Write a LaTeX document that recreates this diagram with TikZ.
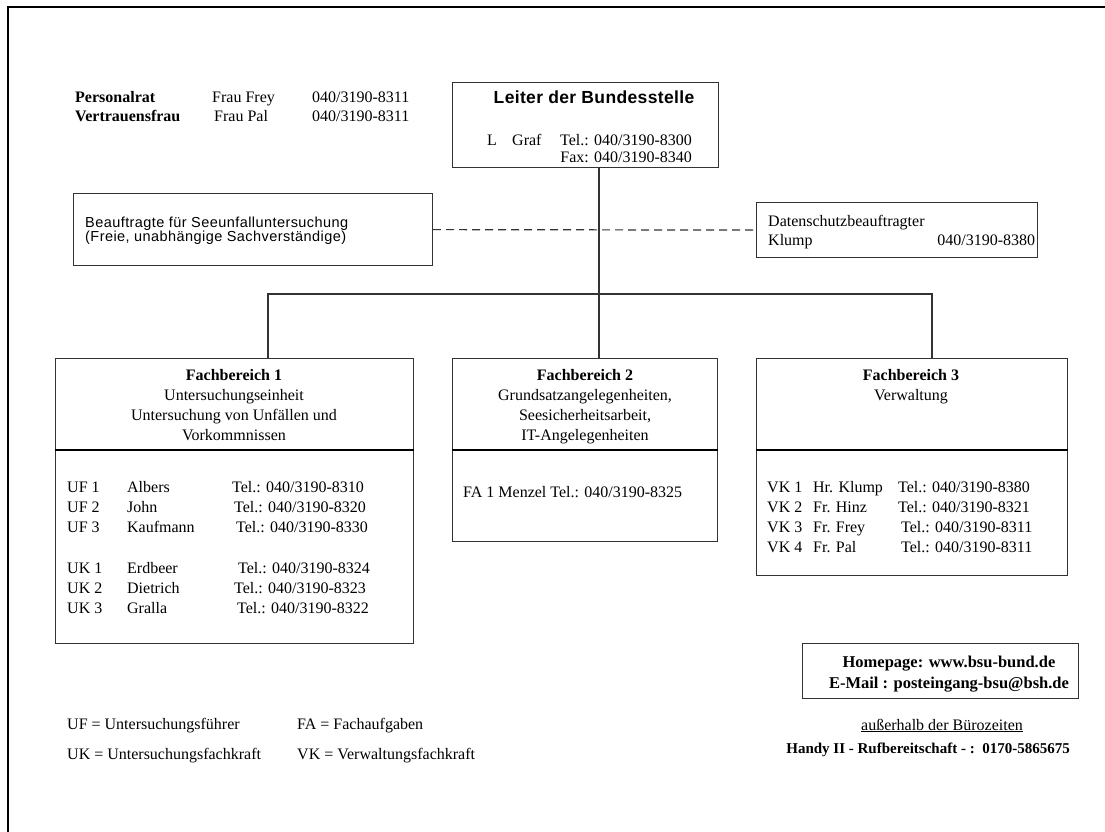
\documentclass[tikz,border=0pt]{standalone}
\usepackage{fontspec}
\setmainfont{Liberation Serif}
\setsansfont{Liberation Sans}
\newfontfamily\boxsans[LetterSpace=3]{Liberation Sans}
\newfontfamily\titlesans[LetterSpace=2]{Liberation Sans}
\usepackage{tikz}
\usetikzlibrary{positioning,calc}
\setlength{\tabcolsep}{0pt}
\tikzset{
  orgbox/.style={rectangle,draw=black!80,line width=1.2pt,inner sep=0pt,anchor=north west},
  txt/.style={inner sep=0pt,font=\fontsize{16}{20}\selectfont},
  toptxt/.style={inner sep=0pt,font=\fontsize{16}{17}\selectfont},
  sanstitle/.style={inner sep=0pt,font=\titlesans\bfseries\fontsize{17.5}{18}\selectfont},
  sanstxt/.style={inner sep=0pt,font=\boxsans\fontsize{14.5}{14}\selectfont},
  divider/.style={draw=black,line width=2pt},
  link/.style={draw=black!80,line width=1.2pt},
  frame/.style={draw=black,line width=1.5pt}
}
\begin{document}
\begin{tikzpicture}[x=1pt,y=-1pt]
  \useasboundingbox (0,0) rectangle (1105,832);
  \draw[frame] (8,832) -- (8,7) -- (1105,7);

  % Personalvertretung
  \node[toptxt,anchor=base west] (personal) at (75,103) {\begin{tabular}[t]{@{}p{137pt}p{100pt}l@{}}
    \textbf{Personalrat} & Frau Frey & 040/3190-8311\\[2pt]
    \textbf{Vertrauensfrau} & \hspace{2pt}Frau Pal & 040/3190-8311
  \end{tabular}};

  % Leitung
  \node[orgbox,minimum width=266pt,minimum height=85pt] (leiter) at (452,82) {};
  \node[sanstitle,anchor=base] (leitertitle) at (594,104) {Leiter der Bundesstelle};
  \node[toptxt,anchor=base west] (leiterinfo) at (487,146) {\begin{tabular}[t]{@{}p{25pt}p{48pt}r@{}}
    L & Graf & Tel.: 040/3190-8300\\
      &      & Fax: 040/3190-8340
  \end{tabular}};

  % Stabsstellen
  \node[orgbox,minimum width=359pt,minimum height=72pt] (beauf) at (73,193) {};
  \node[sanstxt,anchor=base west] (beauftxt) at (85,227) {\begin{tabular}[t]{@{}l@{}}
    Beauftragte für Seeunfalluntersuchung\\
    (Freie, unabhängige Sachverständige)
  \end{tabular}};
  \node[orgbox,minimum width=281pt,minimum height=55pt] (daten) at (756,202) {};
  \node[toptxt,anchor=base west] (datentxt) at (768,226) {\begin{tabular*}{267pt}[t]{@{}l@{\extracolsep{\fill}}r@{}}
    Datenschutzbeauftragter & \\[2pt]
    Klump & 040/3190-8380
  \end{tabular*}};

  % Fachbereiche
  \node[orgbox,minimum width=358pt,minimum height=285pt] (fb1) at (55,358) {};
  \node[orgbox,minimum width=265pt,minimum height=183pt] (fb2) at (452,358) {};
  \node[orgbox,minimum width=311pt,minimum height=217pt] (fb3) at (756,358) {};
  \foreach \fb in {fb1,fb2,fb3}
    \draw[divider] ($(\fb.north west)+(0,92)$) -- ($(\fb.north east)+(0,92)$);

  \node[txt,anchor=base] (fb1head) at (234,380) {\begin{tabular}[t]{@{}c@{}}
    \textbf{Fachbereich 1}\\
    Untersuchungseinheit\\
    Untersuchung von Unfällen und\\
    Vorkommnissen
  \end{tabular}};
  \node[txt,anchor=base] (fb2head) at (585,380) {\begin{tabular}[t]{@{}c@{}}
    \textbf{Fachbereich 2}\\
    Grundsatzangelegenheiten,\\
    Seesicherheitsarbeit,\\
    IT-Angelegenheiten
  \end{tabular}};
  \node[txt,anchor=base] (fb3head) at (911,380) {\begin{tabular}[t]{@{}c@{}}
    \textbf{Fachbereich 3}\\
    Verwaltung
  \end{tabular}};

  \node[txt,anchor=base west] (fb1list) at (67,492) {\begin{tabular}[t]{@{}p{60pt}p{105pt}l@{}}
    UF 1 & Albers & Tel.: 040/3190-8310\\
    UF 2 & John & \hspace{2pt}Tel.: 040/3190-8320\\
    UF 3 & Kaufmann & \hspace{4pt}Tel.: 040/3190-8330\\[21pt]
    UK 1 & Erdbeer & \hspace{6pt}Tel.: 040/3190-8324\\
    UK 2 & Dietrich & \hspace{2pt}Tel.: 040/3190-8323\\
    UK 3 & Gralla & \hspace{5pt}Tel.: 040/3190-8322
  \end{tabular}};
  \node[txt,anchor=base west] (fb2list) at (463,497) {FA 1 Menzel Tel.: 040/3190-8325};
  \node[txt,anchor=base west] (fb3list) at (767,492) {\begin{tabular}[t]{@{}p{46pt}p{85pt}l@{}}
    VK 1 & Hr. Klump & Tel.: 040/3190-8380\\
    VK 2 & Fr. Hinz & Tel.: 040/3190-8321\\
    VK 3 & Fr. Frey & \hspace{3pt}Tel.: 040/3190-8311\\
    VK 4 & Fr. Pal & \hspace{3pt}Tel.: 040/3190-8311
  \end{tabular}};

  % Verbindungen
  \coordinate (trunk) at (599,294);
  \coordinate (busL) at (268,294);
  \coordinate (busR) at (932,294);
  \draw[link] (leiter.south -| trunk) -- (fb2.north -| trunk);
  \draw[link] (fb1.north -| busL) -- (busL) -- (busR) -- (fb3.north -| busR);
  \draw[link,dash pattern=on 8pt off 5pt] (beauf.east) -- (daten.west);

  % Kontakt
  \node[orgbox,minimum width=276pt,minimum height=55pt] (web) at (802,643) {};
  \node[txt,anchor=base,font=\fontsize{16.5}{20}\selectfont] (webtxt) at (949,667) {\begin{tabular}[t]{@{}c@{}}
    \textbf{Homepage: www.bsu-bund.de}\\[1pt]
    \textbf{E-Mail : posteingang-bsu@bsh.de}
  \end{tabular}};
  \node[txt,anchor=base] (offhours) at (942,730) {\underline{außerhalb der Bürozeiten}};
  \node[txt,anchor=base east,font=\fontsize{15}{18}\selectfont] (handy) at (1070,753) {\textbf{Handy II - Rufbereitschaft - :\ \ 0170-5865675}};

  % Abkuerzungen
  \node[txt,anchor=base west] (legend) at (67,729) {\begin{tabular}[t]{@{}p{230pt}l@{}}
    UF = Untersuchungsführer & FA = Fachaufgaben\\[10pt]
    UK = Untersuchungsfachkraft & VK = Verwaltungsfachkraft
  \end{tabular}};
\end{tikzpicture}
\end{document}
